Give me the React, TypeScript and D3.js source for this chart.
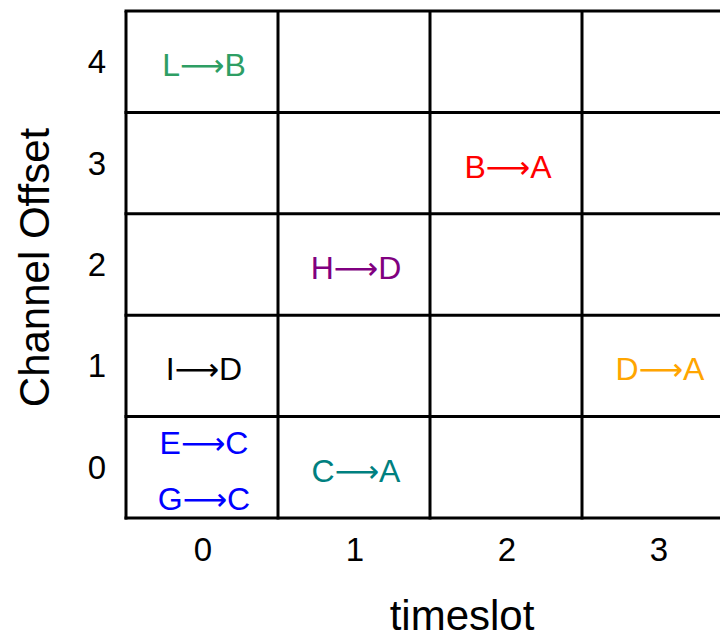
import React, { useEffect } from "react";
import * as d3 from "d3";

const timeslots = [0, 1, 2, 3];
const channelOffsets = [0, 1, 2, 3, 4];
const xTickLabels = ["0", "1", "2", "3"];
const yTickLabels = ["0", "1", "2", "3", "4"];

const linkFrom = ["L", "B", "H", "I", "D", "E", "G", "C"];
const linkTo = ["B", "A", "D", "D", "A", "C", "C", "A"];
const linkSlot = [0, 2, 1, 0, 3, 0, 0, 1];
const linkOffset = [4, 3, 2, 1, 1, 0, 0, 0];

const linkColors: Record<string, string> = {
  "L-B": "#2e9e64",
  "B-A": "#ff0000",
  "H-D": "#800080",
  "I-D": "#000000",
  "D-A": "#ffa500",
  "E-C": "#0000ff",
  "G-C": "#0000ff",
  "C-A": "#008080",
};

const xTitle = "timeslot";
const yTitle = "Channel Offset";

const W = 720;
const H = 636;
const FONT = "'Liberation Sans', Arial, Helvetica, sans-serif";

export default function App() {
  useEffect(() => {
    document.body.style.margin = "0";
  }, []);

  const x = d3
    .scaleBand<number>()
    .domain(timeslots)
    .range([126, 734])
    .paddingInner(0)
    .paddingOuter(0);
  const y = d3
    .scaleBand<number>()
    .domain([...channelOffsets].reverse())
    .range([11, 518])
    .paddingInner(0)
    .paddingOuter(0);

  const xEdges = [...timeslots.map((t) => x(t)!), x(timeslots[timeslots.length - 1])! + x.bandwidth()];
  const yEdges = [...channelOffsets.map((c) => y(c)!), y(0)! + y.bandwidth()];
  const gridTop = d3.min(yEdges)!;
  const gridBottom = d3.max(yEdges)!;
  const gridLeft = d3.min(xEdges)!;
  const gridRight = d3.max(xEdges)!;

  const cellCounts = new Map<string, number>();
  linkFrom.forEach((_, i) => {
    const k = `${linkSlot[i]}-${linkOffset[i]}`;
    cellCounts.set(k, (cellCounts.get(k) || 0) + 1);
  });
  const cellIdx = new Map<string, number>();
  const labels = linkFrom.map((from, i) => {
    const k = `${linkSlot[i]}-${linkOffset[i]}`;
    const n = cellCounts.get(k)!;
    const j = cellIdx.get(k) || 0;
    cellIdx.set(k, j + 1);
    const cx = x(linkSlot[i])! + x.bandwidth() / 2 + 2;
    const cy = y(linkOffset[i])! + y.bandwidth() / 2 + 3.5;
    const spacing = 56.5;
    const dy = (j - (n - 1) / 2) * spacing;
    return {
      from,
      to: linkTo[i],
      color: linkColors[`${from}-${linkTo[i]}`],
      x: cx,
      y: cy + dy,
    };
  });

  return (
    <svg width={W} height={H} style={{ display: "block" }} fontFamily={FONT}>
      <rect width={W} height={H} fill="#fff" />
      {xEdges.map((xe, i) => (
        <line key={"v" + i} x1={xe} x2={xe} y1={gridTop} y2={gridBottom + 1.5} stroke="#000" strokeWidth={3} />
      ))}
      {yEdges.map((ye, i) => (
        <line key={"h" + i} x1={gridLeft - 1.5} x2={gridRight} y1={ye} y2={ye} stroke="#000" strokeWidth={3} />
      ))}
      {labels.map((l, i) => (
        <text
          key={"l" + i}
          x={l.x}
          y={l.y}
          fill={l.color}
          fontSize={32}
          textAnchor="middle"
          dominantBaseline="central"
        >
          {l.from}
          <tspan fontFamily="'DejaVu Sans'" fontSize={31}>{"\u27F6"}</tspan>
          {l.to}
        </text>
      ))}
      {channelOffsets.map((c, i) => (
        <text
          key={"yt" + i}
          x={97}
          y={y(c)! + y.bandwidth() / 2}
          fontSize={33}
          textAnchor="middle"
          dominantBaseline="central"
          fill="#000"
        >
          {yTickLabels[i]}
        </text>
      ))}
      {timeslots.map((t, i) => (
        <text
          key={"xt" + i}
          x={x(t)! + x.bandwidth() / 2 + 1}
          y={549}
          fontSize={33}
          textAnchor="middle"
          dominantBaseline="central"
          fill="#000"
        >
          {xTickLabels[i]}
        </text>
      ))}
      <text x={462} y={630} fontSize={42} textAnchor="middle" fill="#000">
        {xTitle}
      </text>
      <text
        transform={`translate(49, ${(gridTop + gridBottom) / 2 + 3}) rotate(-90)`}
        fontSize={42}
        textAnchor="middle"
        fill="#000"
      >
        {yTitle}
      </text>
    </svg>
  );
}
